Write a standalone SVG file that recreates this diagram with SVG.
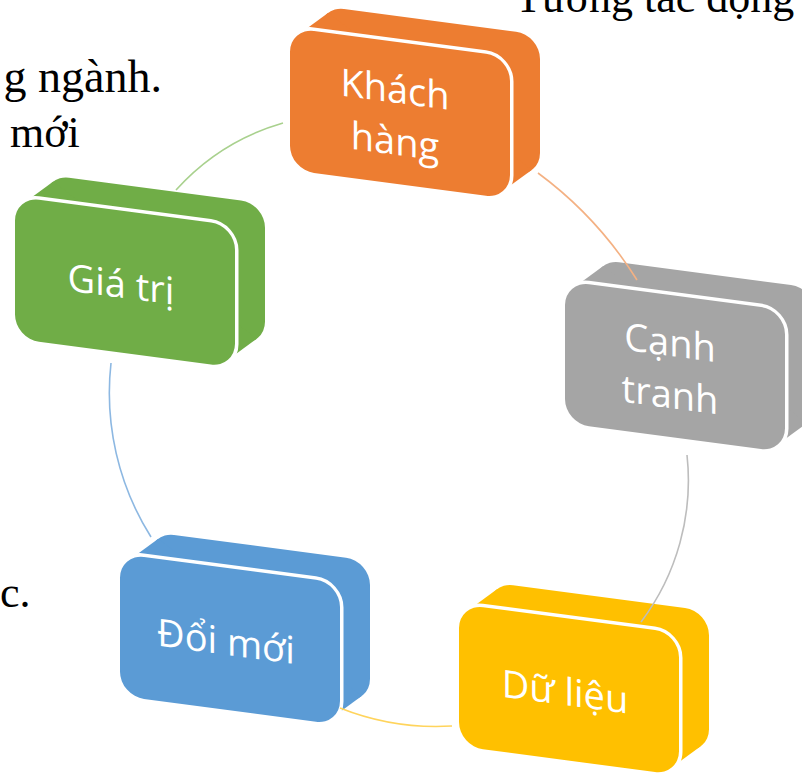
<svg xmlns="http://www.w3.org/2000/svg" xmlns:xlink="http://www.w3.org/1999/xlink" width="802" height="779" viewBox="0 0 802 779">
<style>
.bg{font-family:"Liberation Serif","Times New Roman",serif;font-size:44px;fill:#000}
.lbl{font-family:"Open Sans","Noto Sans",sans-serif;font-size:38px;fill:#fff;text-anchor:middle}
.con{fill:none;stroke-width:1.6}
</style>
<defs>
<g id="blk">
<rect x="30" y="-26" width="220" height="142" rx="24" ry="24"/>
<polygon points="8.3,5.9 38.3,-20.1 241.7,110.1 211.7,136.1"/>
<rect x="0" y="0" width="220" height="142" rx="24" ry="24" fill="#fff" stroke="#fff" stroke-width="7"/>
<rect x="0" y="0" width="220" height="142" rx="24" ry="24"/>
</g>
</defs>
<rect width="802" height="779" fill="#fff"/>
<text class="bg" x="515" y="12">Tương tác động</text>
<text class="bg" x="162" y="92" text-anchor="end" style="font-size:46px">g ngành.</text>
<text class="bg" x="10" y="147">mới</text>
<text class="bg" x="0" y="607">c.</text>
<g id="node-khach-hang" transform="translate(290,27.7) matrix(1,0.133,0,1,0,0)">
<use xlink:href="#blk" fill="#ED7D31"/>
<text class="lbl" x="105" y="61">Khách</text>
<text class="lbl" x="105" y="113">hàng</text>
</g>
<g id="node-canh-tranh" transform="translate(565,281) matrix(1,0.133,0,1,0,0)">
<use xlink:href="#blk" fill="#A5A5A5"/>
<text class="lbl" x="105" y="61">Cạnh</text>
<text class="lbl" x="105" y="113">tranh</text>
</g>
<g id="node-du-lieu" transform="translate(459,604) matrix(1,0.133,0,1,0,0)">
<use xlink:href="#blk" fill="#FFC000"/>
<text class="lbl" x="106" y="87">Dữ liệu</text>
</g>
<g id="node-doi-moi" transform="translate(120,553.7) matrix(1,0.133,0,1,0,0)">
<use xlink:href="#blk" fill="#5B9BD5"/>
<text class="lbl" x="106" y="87">Đổi mới</text>
</g>
<g id="node-gia-tri" transform="translate(15,196.5) matrix(1,0.133,0,1,0,0)">
<use xlink:href="#blk" fill="#70AD47"/>
<text class="lbl" x="106" y="87">Giá trị</text>
</g>
<g id="connectors">
<path class="con" stroke="#A9D18E" d="M176,190 A230,230 0 0 1 283,123"/>
<path class="con" stroke="#F4B183" d="M538,173 A390,390 0 0 1 637,280"/>
<path class="con" stroke="#BDBDBD" d="M687,455 A235,235 0 0 1 641,622"/>
<path class="con" stroke="#FFD45C" d="M452,726 A260,260 0 0 1 340,708"/>
<path class="con" stroke="#8DB8E2" d="M151,537 A270,270 0 0 1 111,363"/>
</g>
</svg>
